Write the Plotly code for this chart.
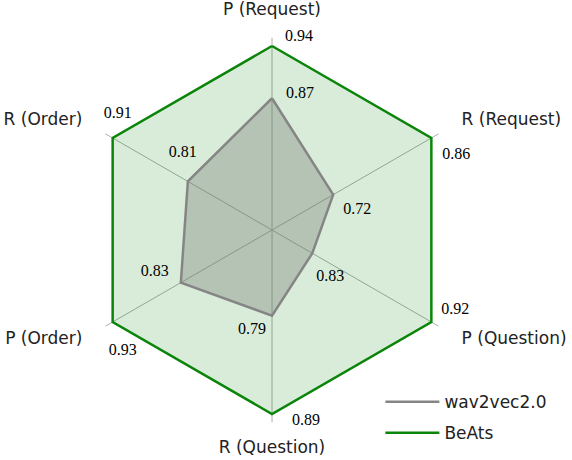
import math
import plotly.graph_objects as go

# ---- data ----
categories = ["P (Request)", "R (Request)", "P (Question)", "R (Question)", "P (Order)", "R (Order)"]
beats_scores = [0.94, 0.86, 0.92, 0.89, 0.93, 0.91]
wav2vec_scores = [0.87, 0.72, 0.83, 0.79, 0.83, 0.81]
# plotted (normalised per axis) radii
beats_radius = [1.0, 1.0, 1.0, 1.0, 1.0, 1.0]
wav2vec_radius = [0.716, 0.384, 0.253, 0.466, 0.572, 0.528]

# ---- style ----
angles = [i * 60 for i in range(len(categories))]
PX_PER_UNIT = 184.0
R_MAX = 1.25
SPOKE_R = 1.045
TICK_R = 1.19
tick_positions = ["middle center", "middle right", "middle right",
                  "middle center", "middle left", "middle left"]
beats_label_offsets = [(27, -9), (25, 17), (24, -12), (34, 7), (10, 29), (5, -24)]
wav_label_offsets = [(28, -4), (24, 15), (18, 24), (-20, 14), (-26, -11), (-5, -28)]
GREEN = "#0a850a"
GRAY = "#858585"


def shifted(rs, ths, offs):
    out_r, out_t = [], []
    for r, t, (dx, dy) in zip(rs, ths, offs):
        x = r * PX_PER_UNIT * math.sin(math.radians(t)) + dx
        y = r * PX_PER_UNIT * math.cos(math.radians(t)) - dy
        out_r.append(math.hypot(x, y) / PX_PER_UNIT)
        out_t.append(math.degrees(math.atan2(x, y)) % 360)
    return out_r, out_t


fig = go.Figure()

# spokes
spoke_r, spoke_t = [], []
for a in angles:
    spoke_r += [0, SPOKE_R, None]
    spoke_t += [a, a, None]
fig.add_trace(go.Scatterpolar(r=spoke_r, theta=spoke_t, mode="lines",
                              line=dict(color="#a9aea9", width=1),
                              showlegend=False, hoverinfo="skip"))

fig.add_trace(go.Scatterpolar(
    r=beats_radius + beats_radius[:1], theta=angles + angles[:1],
    mode="lines", name="BeAts", fill="toself",
    fillcolor="rgba(0,128,0,0.15)", line=dict(color=GREEN, width=2.5),
    showlegend=False, hoverinfo="skip"))
fig.add_trace(go.Scatterpolar(
    r=wav2vec_radius + wav2vec_radius[:1], theta=angles + angles[:1],
    mode="lines", name="wav2vec2.0", fill="toself",
    fillcolor="rgba(120,128,120,0.38)", line=dict(color=GRAY, width=2.5),
    showlegend=False, hoverinfo="skip"))

# legend entries (line only)
fig.add_trace(go.Scatterpolar(r=[None], theta=[None], mode="lines", name="wav2vec2.0",
                              line=dict(color=GRAY, width=2.5),
                              legendrank=1, legendgroup="w"))
fig.add_trace(go.Scatterpolar(r=[None], theta=[None], mode="lines", name="BeAts",
                              line=dict(color=GREEN, width=2.5),
                              legendrank=2, legendgroup="b"))

# category labels
fig.add_trace(go.Scatterpolar(
    r=[TICK_R] * len(categories), theta=angles, mode="text", text=categories,
    textposition=tick_positions,
    textfont=dict(family="DejaVu Sans", size=17, color="#222"),
    showlegend=False, hoverinfo="skip"))

# value labels
label_font = dict(family="Liberation Serif", size=16, color="black")
for rs, vals, offs in ((beats_radius, beats_scores, beats_label_offsets),
                       (wav2vec_radius, wav2vec_scores, wav_label_offsets)):
    lr, lt = shifted(rs, angles, offs)
    fig.add_trace(go.Scatterpolar(
        r=lr, theta=lt, mode="text", text=[f"{v:.2f}" for v in vals],
        textposition="middle center", textfont=label_font,
        showlegend=False, hoverinfo="skip"))

fig.update_layout(
    width=572, height=460,
    margin=dict(l=0, r=0, t=0, b=0),
    paper_bgcolor="white", plot_bgcolor="white",
    font=dict(family="DejaVu Sans", size=17, color="#222"),
    polar=dict(
        domain=dict(x=[(272 - 230) / 572, (272 + 230) / 572], y=[0, 1]),
        bgcolor="rgba(0,0,0,0)",
        radialaxis=dict(range=[0, R_MAX], visible=False),
        angularaxis=dict(type="linear", rotation=90, direction="clockwise",
                         showline=False, showgrid=False, showticklabels=False,
                         ticks=""),
    ),
    legend=dict(x=0.665, y=0.165, xanchor="left", yanchor="top",
                bgcolor="rgba(0,0,0,0)", tracegroupgap=6, itemwidth=54,
                font=dict(family="DejaVu Sans", size=17, color="#222")),
)

fig.write_html("out.html", config={"displayModeBar": False},
               post_script="document.body.style.margin='0';document.body.style.overflow='hidden';")
